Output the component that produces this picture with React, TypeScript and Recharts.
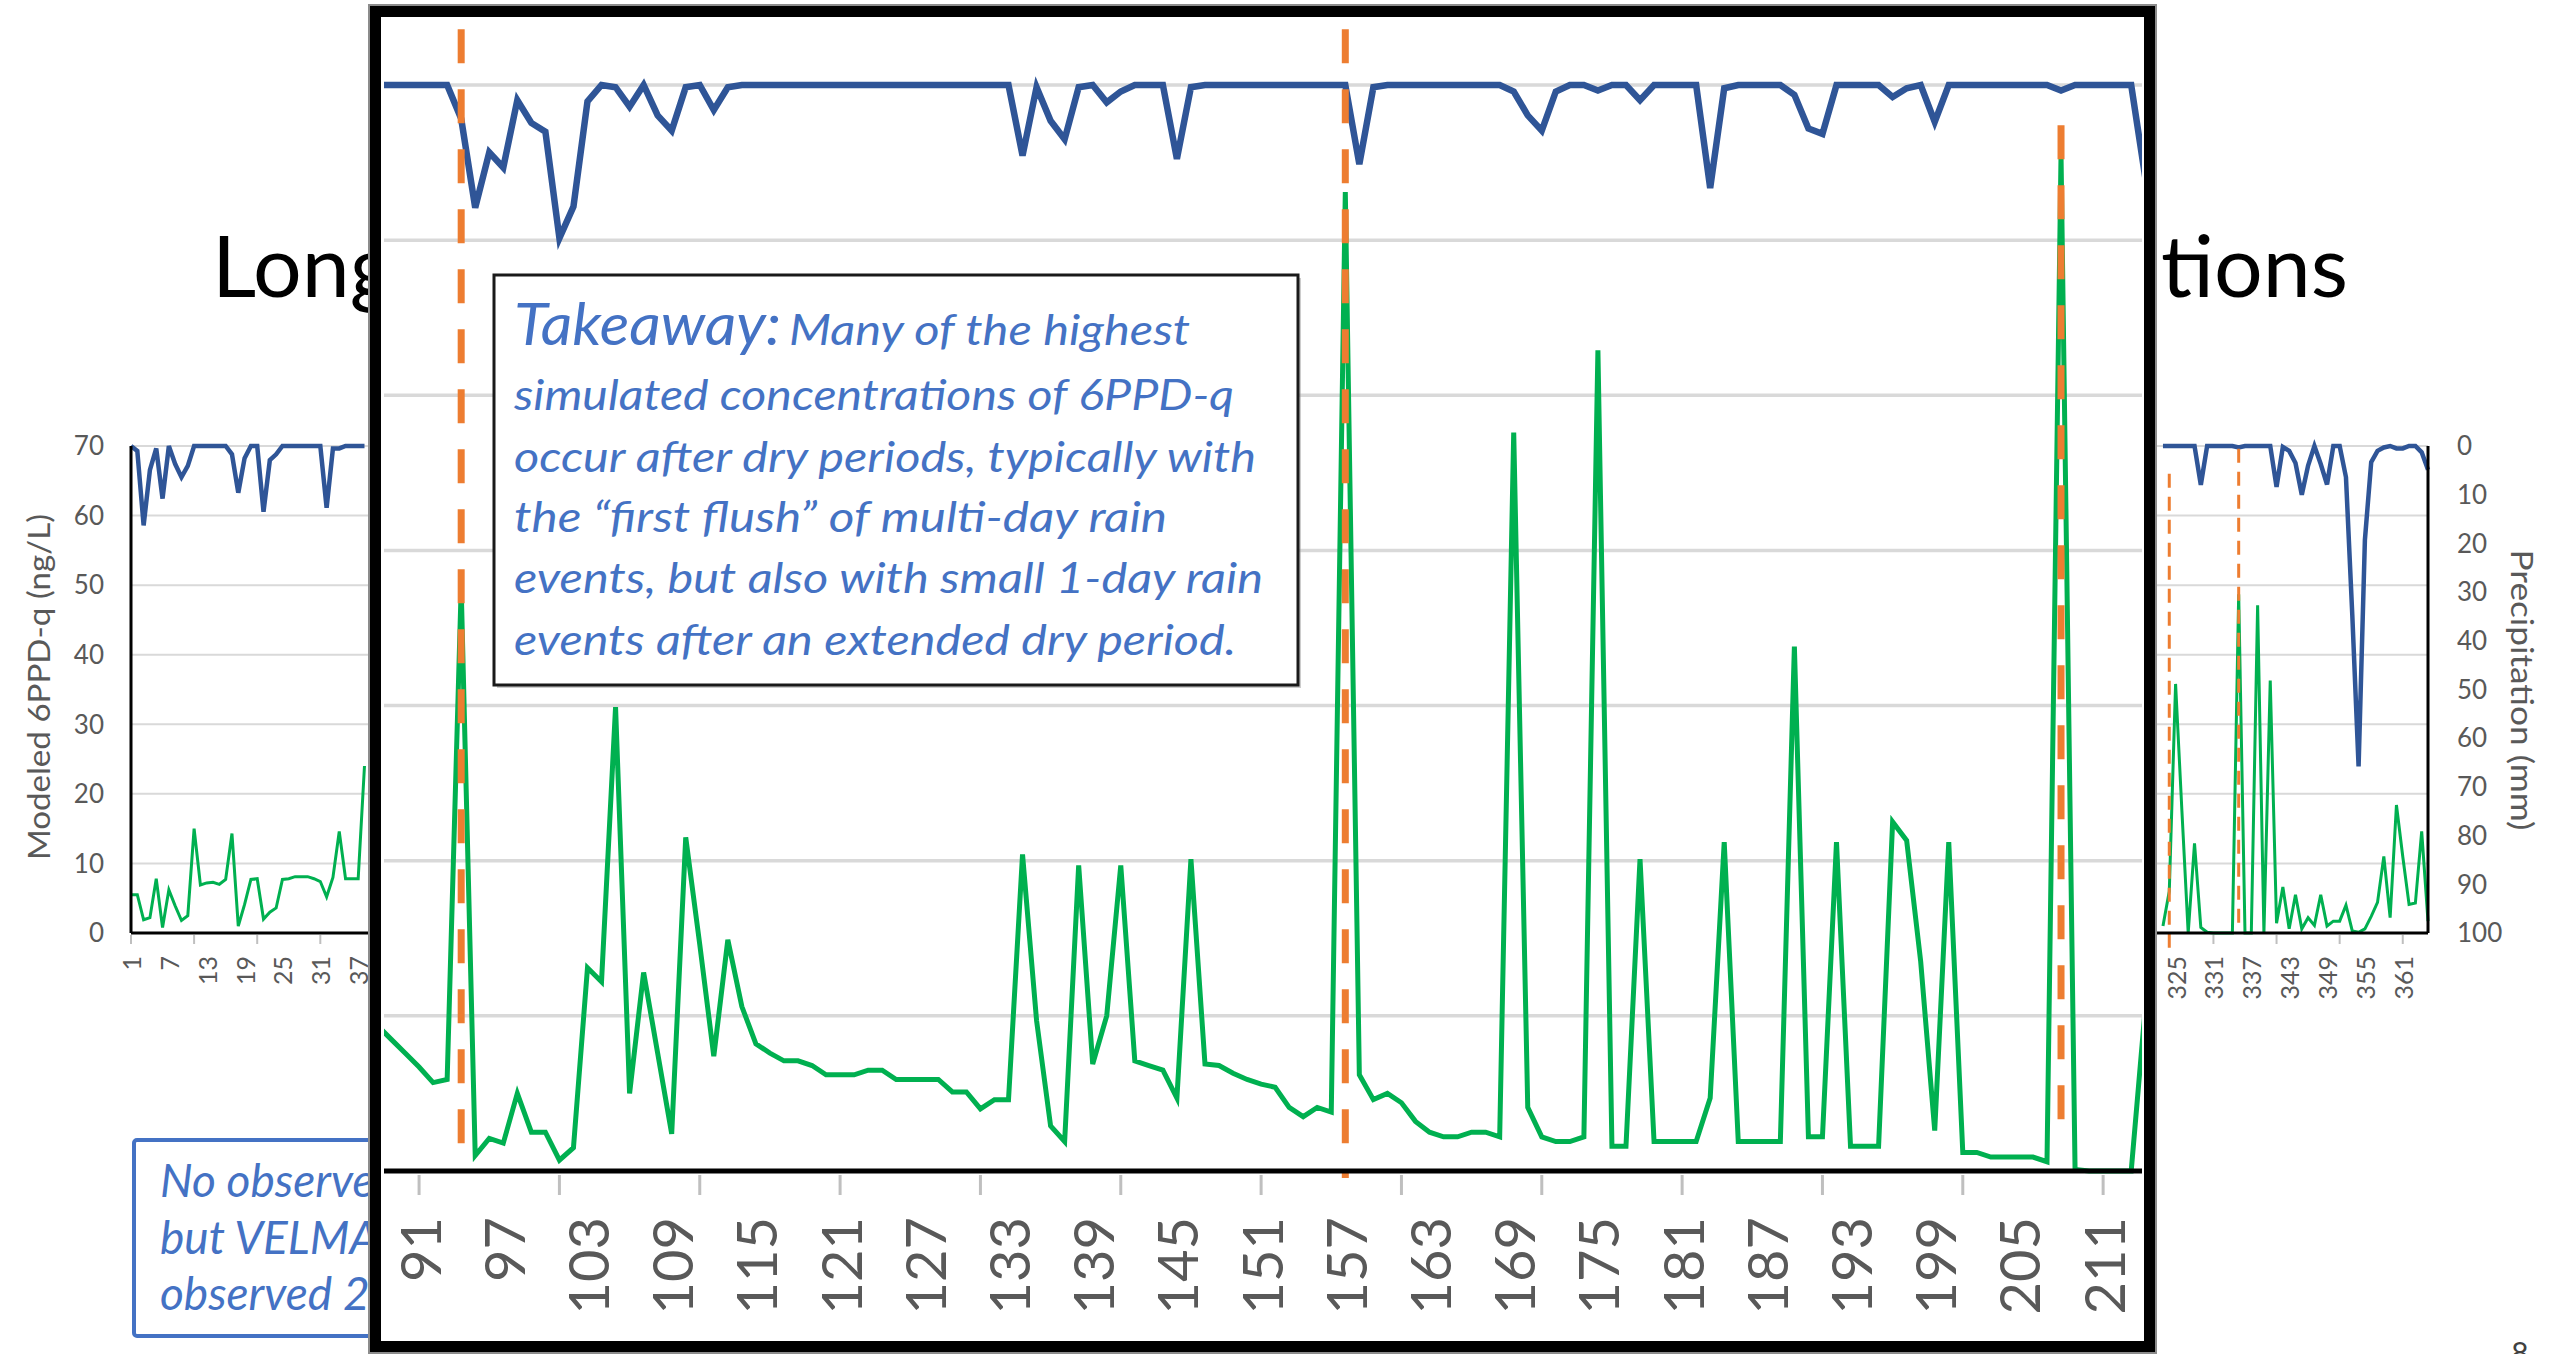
import React from "react";
import { LineChart, Line, XAxis, YAxis, CartesianGrid, ReferenceLine } from "recharts";

// zoomed window (overlay), one value per day starting at day 88
const ZOOM_FIRST_DAY = 88;
const zoomConc = [
  9.4, 8.5, 7.6, 6.7, 5.7, 5.9, 37.6, 1.0, 2.1, 1.8,
  5.0, 2.5, 2.5, 0.7, 1.5, 13.1, 12.2, 29.9, 5.0, 12.8,
  7.6, 2.4, 21.5, 14.6, 7.4, 14.9, 10.6, 8.2, 7.6, 7.1,
  7.1, 6.8, 6.2, 6.2, 6.2, 6.5, 6.5, 5.9, 5.9, 5.9,
  5.9, 5.1, 5.1, 4.0, 4.6, 4.6, 20.4, 9.7, 2.9, 1.9,
  19.7, 6.9, 10.0, 19.7, 7.1, 6.8, 6.5, 4.7, 20.1, 6.9,
  6.8, 6.3, 5.9, 5.6, 5.4, 4.1, 3.5, 4.1, 3.8, 63.1,
  6.2, 4.6, 5.0, 4.4, 3.2, 2.5, 2.2, 2.2, 2.5, 2.5,
  2.2, 47.6, 4.1, 2.2, 1.9, 1.9, 2.2, 52.9, 1.6, 1.6,
  20.1, 1.9, 1.9, 1.9, 1.9, 4.7, 21.2, 1.9, 1.9, 1.9,
  1.9, 33.8, 2.2, 2.2, 21.2, 1.6, 1.6, 1.6, 22.5, 21.3,
  13.5, 2.6, 21.2, 1.2, 1.2, 0.9, 0.9, 0.9, 0.9, 0.6,
  65.5, 0.1, 0, 0, 0, 0, 10.5,
];
const zoomPrecip = [
  0, 0, 0, 0, 0, 0, 3.1, 11.3, 6.2, 7.6,
  1.4, 3.5, 4.3, 14.1, 11.2, 1.5, 0, 0.2, 2.0, 0,
  2.8, 4.2, 0.2, 0, 2.3, 0.2, 0, 0, 0, 0,
  0, 0, 0, 0, 0, 0, 0, 0, 0, 0,
  0, 0, 0, 0, 0, 0, 6.5, 0.2, 3.3, 5.0,
  0.2, 0, 1.6, 0.6, 0, 0, 0, 6.8, 0.2, 0,
  0, 0, 0, 0, 0, 0, 0, 0, 0, 0,
  7.3, 0.2, 0, 0, 0, 0, 0, 0, 0, 0,
  0, 0.6, 2.8, 4.2, 0.6, 0, 0, 0.5, 0, 0,
  1.4, 0, 0, 0, 0, 9.5, 0.3, 0, 0, 0,
  0, 0.9, 4.0, 4.5, 0, 0, 0, 0, 1.1, 0.3,
  0, 3.4, 0, 0, 0, 0, 0, 0, 0, 0,
  0.5, 0, 0, 0, 0, 0, 8.5,
];

// background full-year chart: the parts left of and right of the overlay
const EARLY_FIRST_DAY = 1;
const earlyConc = [
  5.5, 5.5, 1.9, 2.2, 7.8, 0.8, 6.2, 3.9, 1.8, 2.5,
  15.0, 6.9, 7.2, 7.3, 7.0, 7.7, 14.3, 1.0, 4.1, 7.7,
  7.8, 2.0, 3.0, 3.6, 7.7, 7.8, 8.1, 8.1, 8.1, 7.8,
  7.4, 5.2, 8.0, 14.6, 7.8, 7.8, 7.8, 24.0,
];
const earlyPrecip = [
  0, 1.0, 16.3, 4.9, 0.5, 10.8, 0, 3.7, 6.4, 4.1,
  0, 0, 0, 0, 0, 0, 1.7, 9.6, 2.5, 0,
  0, 13.5, 2.9, 1.7, 0, 0, 0, 0, 0, 0,
  0, 12.7, 0.5, 0.5, 0, 0, 0, 0,
];
const LATE_FIRST_DAY = 323;
const lateConc = [
  1.0, 6.0, 35.8, 17.6, 0, 12.9, 0.8, 0.1, 0, 0,
  0, 0, 48.7, 0, 0, 47.1, 0, 36.3, 1.4, 6.6,
  0.6, 5.5, 0.6, 2.2, 1.1, 5.5, 1.0, 1.7, 1.7, 4.0,
  0.3, 0.1, 0.6, 2.4, 4.4, 11.0, 2.2, 18.4, 11.0, 4.1,
  4.3, 14.6, 1.7,
];
const latePrecip = [
  0, 0, 0, 0, 0, 0, 8.0, 0, 0, 0,
  0, 0, 0.3, 0, 0, 0, 0, 0, 8.4, 0.2,
  1.0, 3.5, 10.0, 4.0, 0, 3.7, 7.9, 0, 0, 6.4,
  34.6, 65.8, 19.3, 3.3, 1.0, 0.3, 0, 0.5, 0.5, 0,
  0, 1.3, 4.9,
];

const concTicks = [0, 10, 20, 30, 40, 50, 60, 70];
const precipTicks = [0, 10, 20, 30, 40, 50, 60, 70, 80, 90, 100];
const yearLabelDays = [
  1, 7, 13, 19, 25, 31, 37, 43, 49, 55, 61, 67, 73, 79, 85, 91, 97, 103, 109, 115, 121,
  127, 133, 139, 145, 151, 157, 163, 169, 175, 181, 187, 193, 199, 205, 211, 217, 223,
  229, 235, 241, 247, 253, 259, 265, 271, 277, 283, 289, 295, 301, 307, 313, 319, 325,
  331, 337, 343, 349, 355, 361,
];
const yearMarkDays = [
  1, 11, 21, 31, 41, 51, 61, 71, 81, 91, 101, 111, 121, 131, 141, 151, 161, 171, 181,
  191, 201, 211, 221, 231, 241, 251, 261, 271, 281, 291, 301, 311, 321, 331, 341, 351, 361,
];
const zoomLabelDays = [91, 97, 103, 109, 115, 121, 127, 133, 139, 145, 151, 157, 163, 169, 175, 181, 187, 193, 199, 205, 211];
const zoomMarkDays = [91, 101, 111, 121, 131, 141, 151, 161, 171, 181, 191, 201, 211];

// first-flush markers (dashed orange), extents in ng/L units
const zoomFlush = [
  { day: 94, top: 73.6, bottom: 0 },
  { day: 157, top: 73.6, bottom: -0.45 },
  { day: 208, top: 67.4, bottom: 2.3 },
];
const yearFlush = [
  { day: 324, top: 66.0, bottom: -2.4 },
  { day: 335, top: 69.6, bottom: 0.3 },
];

const takeawayLines = [
  "simulated concentrations of 6PPD-q",
  "occur after dry periods, typically with",
  "the \u201cfirst flush\u201d of multi-day rain",
  "events, but also with small 1-day rain",
  "events after an extended dry period.",
];
const takeawayWidths = [720, 742, 653, 749, 722];
const takeawayBaselines = [410, 472, 532, 593, 655];

const noteLines = ["No observed data", "but VELMA", "observed 2022"];

const GREEN = "#00B050";
const BLUE = "#2F5597";
const ORANGE = "#ED7D31";
const AXIS_TEXT = "#595959";
const FONT = "Lato, 'Open Sans', sans-serif";

const rows = (first: number, conc: number[], precip: number[]) =>
  conc.map((c, i) => ({ day: first + i, conc: c, precip: precip[i] }));

const zoomRows = rows(ZOOM_FIRST_DAY, zoomConc, zoomPrecip);
const earlyRows = rows(EARLY_FIRST_DAY, earlyConc, earlyPrecip);
const lateRows = rows(LATE_FIRST_DAY, lateConc, latePrecip);

const union = (a: number[], b: number[]) => Array.from(new Set([...a, ...b])).sort((p, q) => p - q);

type TickStyle = { markGap: number; markLen: number; markWidth: number; labelGap: number; fontSize: number };

const dayTick = (labels: number[], marks: number[], s: TickStyle) => (props: any) => {
  const { x, y, payload } = props;
  const v = payload.value;
  const ly = y + s.labelGap;
  return (
    <g>
      {marks.includes(v) && (
        <line x1={x} x2={x} y1={y + s.markGap} y2={y + s.markGap + s.markLen} stroke="#BFBFBF" strokeWidth={s.markWidth} />
      )}
      {labels.includes(v) && (
        <text
          x={x}
          y={ly}
          transform={`rotate(-90, ${x}, ${ly})`}
          textAnchor="end"
          dominantBaseline="central"
          fontSize={s.fontSize}
          fontFamily={FONT}
          fill={AXIS_TEXT}
        >
          {v}
        </text>
      )}
    </g>
  );
};

const YearChart = () => (
  <LineChart width={2560} height={1354} margin={{ top: 446, right: 0, bottom: 0, left: 0 }}>
    <CartesianGrid xAxisId="day" yAxisId="conc" vertical={false} stroke="#D9D9D9" strokeWidth={2} />
    <XAxis
      xAxisId="top"
      orientation="top"
      type="number"
      domain={[1, 365]}
      height={0}
      tick={false}
      tickLine={false}
      axisLine={{ stroke: "#000", strokeWidth: 3 }}
    />
    <XAxis
      xAxisId="day"
      type="number"
      dataKey="day"
      domain={[1, 365]}
      ticks={union(yearLabelDays, yearMarkDays)}
      interval={0}
      height={421}
      tickSize={0}
      tickMargin={0}
      tickLine={false}
      axisLine={{ stroke: "#000", strokeWidth: 3 }}
      tick={dayTick(yearLabelDays, yearMarkDays, { markGap: 2, markLen: 9, markWidth: 2, labelGap: 23, fontSize: 25 })}
    />
    <YAxis
      yAxisId="conc"
      domain={[0, 70]}
      ticks={concTicks}
      width={131}
      tickSize={0}
      tickMargin={27}
      tickLine={false}
      axisLine={{ stroke: "#000", strokeWidth: 3 }}
      tick={{ fontSize: 26, fill: AXIS_TEXT, fontFamily: FONT }}
    />
    <YAxis
      yAxisId="precip"
      orientation="right"
      reversed
      domain={[0, 100]}
      ticks={precipTicks}
      width={132}
      tickSize={0}
      tickMargin={29}
      tickLine={false}
      axisLine={{ stroke: "#000", strokeWidth: 3 }}
      tick={{ fontSize: 26, fill: AXIS_TEXT, fontFamily: FONT, textAnchor: "start" }}
    />
    <Line data={earlyRows} xAxisId="day" yAxisId="conc" dataKey="conc" type="linear" stroke={GREEN} strokeWidth={3} dot={false} isAnimationActive={false} />
    <Line data={lateRows} xAxisId="day" yAxisId="conc" dataKey="conc" type="linear" stroke={GREEN} strokeWidth={3} dot={false} isAnimationActive={false} />
    <Line data={earlyRows} xAxisId="day" yAxisId="precip" dataKey="precip" type="linear" stroke={BLUE} strokeWidth={4.5} dot={false} isAnimationActive={false} />
    <Line data={lateRows} xAxisId="day" yAxisId="precip" dataKey="precip" type="linear" stroke={BLUE} strokeWidth={4.5} dot={false} isAnimationActive={false} />
    {yearFlush.map((f) => (
      <ReferenceLine
        key={f.day}
        xAxisId="day"
        yAxisId="conc"
        segment={[{ x: f.day, y: f.top }, { x: f.day, y: f.bottom }]}
        ifOverflow="visible"
        stroke={ORANGE}
        strokeWidth={3}
        strokeDasharray="14 9"
      />
    ))}
  </LineChart>
);

const ZoomChart = () => (
  <LineChart width={1763} height={1324} data={zoomRows} margin={{ top: 68, right: 2, bottom: 0, left: 3 }}>
    <CartesianGrid xAxisId="day" yAxisId="conc" vertical={false} stroke="#D9D9D9" strokeWidth={3.5} />
    <XAxis
      xAxisId="top"
      orientation="top"
      type="number"
      domain={[88.5, 213.77]}
      allowDataOverflow
      height={0}
      tick={false}
      tickLine={false}
      axisLine={{ stroke: "#000", strokeWidth: 5 }}
    />
    <XAxis
      xAxisId="day"
      type="number"
      dataKey="day"
      domain={[88.5, 213.77]}
      allowDataOverflow
      ticks={union(zoomLabelDays, zoomMarkDays)}
      interval={0}
      height={170}
      tickSize={0}
      tickMargin={0}
      tickLine={false}
      axisLine={{ stroke: "#000", strokeWidth: 5 }}
      tick={dayTick(zoomLabelDays, zoomMarkDays, { markGap: 4, markLen: 20, markWidth: 3, labelGap: 46, fontSize: 56 })}
    />
    <YAxis yAxisId="conc" hide domain={[0, 70]} ticks={concTicks} />
    <YAxis yAxisId="precip" hide orientation="right" reversed domain={[0, 100]} ticks={precipTicks} />
    <Line xAxisId="day" yAxisId="conc" dataKey="conc" type="linear" stroke={GREEN} strokeWidth={5} dot={false} isAnimationActive={false} />
    <Line xAxisId="day" yAxisId="precip" dataKey="precip" type="linear" stroke={BLUE} strokeWidth={6.5} dot={false} isAnimationActive={false} />
    {zoomFlush.map((f) => (
      <ReferenceLine
        key={f.day}
        xAxisId="day"
        yAxisId="conc"
        segment={[{ x: f.day, y: f.top }, { x: f.day, y: f.bottom }]}
        ifOverflow="visible"
        stroke={ORANGE}
        strokeWidth={7}
        strokeDasharray="34 26"
      />
    ))}
  </LineChart>
);

export default function App() {
  return (
    <div
      style={{
        position: "absolute",
        left: 0,
        top: 0,
        width: 2560,
        height: 1354,
        overflow: "hidden",
        background: "#fff",
        fontFamily: FONT,
      }}
    >
      {/* slide title, mostly hidden by the overlay */}
      <svg width={2560} height={1354} style={{ position: "absolute", left: 0, top: 0 }}>
        <text x={212} y={297} fontSize={86} fontFamily={FONT} fill="#000">
          Long-term VELMA Simulations of
        </text>
        <text x={2348} y={297} fontSize={86} fontFamily={FONT} fill="#000" textAnchor="end">
          6PPD-q Concentrations
        </text>
      </svg>

      <div style={{ position: "absolute", left: 0, top: 0 }}>
        <YearChart />
      </div>

      <svg width={2560} height={1354} style={{ position: "absolute", left: 0, top: 0 }}>
        <text
          x={38}
          y={687}
          transform="rotate(-90, 38, 687)"
          textAnchor="middle"
          dominantBaseline="central"
          fontSize={31}
          fontFamily={FONT}
          textLength={346}
          lengthAdjust="spacingAndGlyphs"
          fill={AXIS_TEXT}
        >
          Modeled 6PPD-q (ng/L)
        </text>
        <text
          x={2523}
          y={690}
          transform="rotate(90, 2523, 690)"
          textAnchor="middle"
          dominantBaseline="central"
          fontSize={31}
          fontFamily={FONT}
          textLength={281}
          lengthAdjust="spacingAndGlyphs"
          fill={AXIS_TEXT}
        >
          Precipitation (mm)
        </text>
        <rect x={134} y={1140} width={760} height={196} rx={3} fill="#fff" stroke="#4472C4" strokeWidth={4} />
        {noteLines.map((t, i) => (
          <text key={t} x={160} y={1197 + i * 56.5} fontSize={46} fontStyle="italic" fontFamily={FONT} fill="#4472C4">
            {t}
          </text>
        ))}
        <text x={2520} y={1364} textAnchor="middle" fontSize={30} fontFamily={FONT} fill="#404040">
          8
        </text>
      </svg>

      {/* zoomed overlay */}
      <div
        style={{
          position: "absolute",
          left: 368,
          top: 4,
          width: 1789,
          height: 1350,
          boxSizing: "border-box",
          border: "2px solid #8c8c8c",
          background: "#000",
        }}
      >
        <div style={{ position: "absolute", left: 11, top: 11, right: 11, bottom: 11, background: "#fff" }} />
      </div>
      <div style={{ position: "absolute", left: 381, top: 17 }}>
        <ZoomChart />
      </div>

      <svg width={2560} height={1354} style={{ position: "absolute", left: 0, top: 0 }}>
        <rect x={497} y={278} width={804} height={410} fill="#9a9a9a" opacity={0.5} />
        <rect x={494} y={275} width={804} height={410} fill="#fff" stroke="#1a1a1a" strokeWidth={3} />
        <text x={514} y={345} fontSize={58} fontStyle="italic" fontFamily={FONT} fill="#4472C4" textLength={267} lengthAdjust="spacingAndGlyphs">
          Takeaway:
        </text>
        <text x={789} y={345} fontSize={42} fontStyle="italic" fontFamily={FONT} fill="#4472C4" textLength={401} lengthAdjust="spacingAndGlyphs">
          Many of the highest
        </text>
        {takeawayLines.map((t, i) => (
          <text
            key={t}
            x={514}
            y={takeawayBaselines[i]}
            fontSize={42}
            fontStyle="italic"
            fontFamily={FONT}
            fill="#4472C4"
            textLength={takeawayWidths[i]}
            lengthAdjust="spacingAndGlyphs"
          >
            {t}
          </text>
        ))}
      </svg>
    </div>
  );
}
